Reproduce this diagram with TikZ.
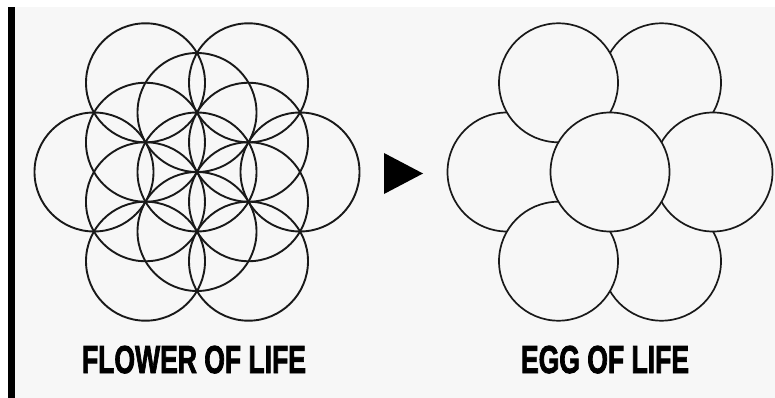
\documentclass[tikz,border=0pt]{standalone}
\usepackage{fontspec}
\newfontfamily\heavy[FakeBold=2.5]{Liberation Sans}
\definecolor{bg}{HTML}{F7F7F7}
\begin{document}
\begin{tikzpicture}[x=1pt,y=-1pt,
  ring/.style={circle, draw=black!90, line width=1.9pt, minimum size=119pt, inner sep=0pt},
  eggring/.style={ring, fill=bg, line width=1.7pt},
  title/.style={anchor=base, inner sep=0pt, font=\heavy\bfseries\fontsize{39}{39}\selectfont}]
\useasboundingbox (0,0) rectangle (775,398);
\fill[white] (0,0) rectangle (775,398);
\fill[bg] (15,7) rectangle (775,398);
\fill[black] (8,7) rectangle (15,398);
% Flower of life
\coordinate (fc) at (197,172);
\node[ring] (f0) at (fc) {};
\foreach \a [count=\i] in {90,30,-30,-90,-150,150}
  \node[ring] (fi\i) at ([shift={(\a:59.5pt)}]fc) {};
\foreach \a [count=\i] in {0,60,120,180,240,300}
  \node[ring] (fo\i) at ([shift={(\a:103pt)}]fc) {};
% Arrow
\coordinate (a1) at (384,153);
\coordinate (a2) at (423,173.5);
\coordinate (a3) at (384,194);
\fill[black] (a1) -- (a2) -- (a3) -- cycle;
% Egg of life
\coordinate (ec) at (610,172);
\foreach \a/\n in {60/tr,300/br,180/l,120/tl,240/bl,0/r}
  \node[eggring] (e\n) at ([shift={(\a:103pt)}]ec) {};
\node[eggring] (e0) at (ec) {};
% Titles
\node[title] (t1) at (194,373) {\scalebox{0.68}[1]{FLOWER OF LIFE}};
\node[title] (t2) at (605,373) {\scalebox{0.68}[1]{EGG OF LIFE}};
\end{tikzpicture}
\end{document}
